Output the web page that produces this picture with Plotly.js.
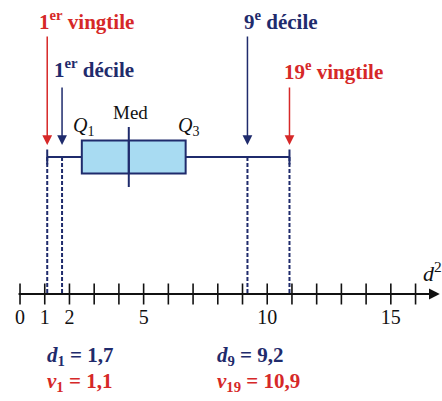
<!DOCTYPE html>
<html>
<head>
<meta charset="utf-8">
<script src="https://cdn.plot.ly/plotly-3.0.1.min.js"></script>
<style>
  html, body { margin: 0; padding: 0; background: #fff; }
  #chart { width: 442px; height: 401px; }
</style>
</head>
<body>
<div id="chart"></div>
<script>
/* Diagramme en boîte avec déciles et vingtiles */
var boxQ1 = [2.5];
var boxMed = [4.4];
var boxQ3 = [6.7];
var vingtiles = [1.1, 10.9];     // v1, v19
var deciles = [1.7, 9.2];        // d1, d9
var tickPositions = [0, 1, 2, 3, 4, 5, 6, 7, 8, 9, 10, 11, 12, 13, 14, 15, 16];
var labelValues = [0, 1, 2, 5, 10, 15];
var labelTexts = ['0', '1', '2', '5', '10', '15'];

var W = 442, H = 401;
var navy = '#1f2b6c';
var red = '#d62828';
var serif = 'Liberation Serif, DejaVu Serif, serif';

var AXIS_Y = 294;
var WHISKER_Y = 157;

function px(p) { return p / W; }

var data = [];

// boîte
data.push({
    type: 'box',
    orientation: 'h',
    y: [WHISKER_Y],
    q1: boxQ1,
    median: boxMed,
    q3: boxQ3,
    lowerfence: [vingtiles[0]],
    upperfence: [vingtiles[1]],
    width: 33,
    whiskerwidth: 0.45,
    fillcolor: '#a8dbf2',
    line: { color: navy, width: 2 },
    boxpoints: false,
    hoverinfo: 'skip',
    showlegend: false
});

// graduations de l'axe
data.push({
    type: 'scatter',
    mode: 'markers',
    x: tickPositions,
    y: tickPositions.map(function () { return AXIS_Y; }),
    marker: { symbol: 'line-ns-open', size: 15, color: '#111', line: { color: '#111', width: 1.6 } },
    hoverinfo: 'skip',
    showlegend: false
});

var shapes = [];
// prolongement de la médiane
shapes.push({
    type: 'line', xref: 'x', yref: 'y',
    x0: boxMed[0], x1: boxMed[0], y0: 127, y1: 187,
    line: { color: navy, width: 2 }
});
// pointillés jusqu'à l'axe
[vingtiles[0], deciles[0], deciles[1], vingtiles[1]].forEach(function (v) {
    shapes.push({
        type: 'line', xref: 'x', yref: 'y',
        x0: v, x1: v, y0: WHISKER_Y, y1: AXIS_Y,
        line: { color: navy, width: 2, dash: '4px,2px' }
    });
});

var annotations = [];
// axe fléché
annotations.push({
    x: 16.98, y: AXIS_Y, xref: 'x', yref: 'y',
    ax: -0.12, ay: AXIS_Y, axref: 'x', ayref: 'y',
    text: '', showarrow: true,
    arrowhead: 2, arrowsize: 1.2, arrowwidth: 1.8, arrowcolor: '#111'
});

// flèches
function arrow(v, tail, color) {
    annotations.push({
        x: v, y: 145, xref: 'x', yref: 'y',
        ax: v, ay: tail, axref: 'x', ayref: 'y',
        text: '', showarrow: true,
        arrowhead: 2, arrowsize: 1.3, arrowwidth: 1.5, arrowcolor: color
    });
}
arrow(vingtiles[0], 35, red);
arrow(deciles[0], 86, navy);
arrow(deciles[1], 35, navy);
arrow(vingtiles[1], 86, red);

function label(text, x, y, color, size, anchor) {
    annotations.push({
        text: text, x: px(x), y: y, xref: 'paper', yref: 'y',
        xanchor: anchor || 'center', yanchor: 'middle', showarrow: false,
        font: { family: serif, size: size, color: color }
    });
}
label('<b>1<sup>er</sup> vingtile</b>', 86, 20, red, 21);
label('<b>1<sup>er</sup> décile</b>', 94, 68, navy, 21);
label('<b>9<sup>e</sup> décile</b>', 281, 20, navy, 21);
label('<b>19<sup>e</sup> vingtile</b>', 333, 70, red, 21);
label('Med', 130, 112, '#111', 19);
label('<i>Q</i><sub>1</sub>', 83, 126, '#111', 20);
label('<i>Q</i><sub>3</sub>', 188, 126, '#111', 20);
label('<i>d</i><sup>2</sup>', 432, 272, '#111', 22);

label('<b><i>d</i><sub>1</sub> = 1,7</b>', 45, 356, navy, 21, 'left');
label('<b><i>v</i><sub>1</sub> = 1,1</b>', 45, 382, red, 21, 'left');
label('<b><i>d</i><sub>9</sub> = 9,2</b>', 215, 356, navy, 21, 'left');
label('<b><i>v</i><sub>19</sub> = 10,9</b>', 215, 382, red, 21, 'left');

var layout = {
    width: W,
    height: H,
    margin: { l: 0, r: 0, t: 0, b: 0 },
    paper_bgcolor: '#fff',
    plot_bgcolor: '#fff',
    showlegend: false,
    xaxis: {
        range: [-0.81, 17.07],
        anchor: 'free',
        position: 1 - AXIS_Y / H,
        tickmode: 'array',
        tickvals: labelValues,
        ticktext: labelTexts,
        ticks: '',
        ticklabelstandoff: 9,
        showline: false,
        showgrid: false,
        zeroline: false,
        tickfont: { family: serif, size: 20, color: '#111' }
    },
    yaxis: {
        type: 'linear',
        range: [H, 0],
        visible: false,
        showgrid: false,
        zeroline: false
    },
    shapes: shapes,
    annotations: annotations
};

var config = { staticPlot: true, displayModeBar: false };

Plotly.newPlot('chart', data, layout, config);
</script>
</body>
</html>
